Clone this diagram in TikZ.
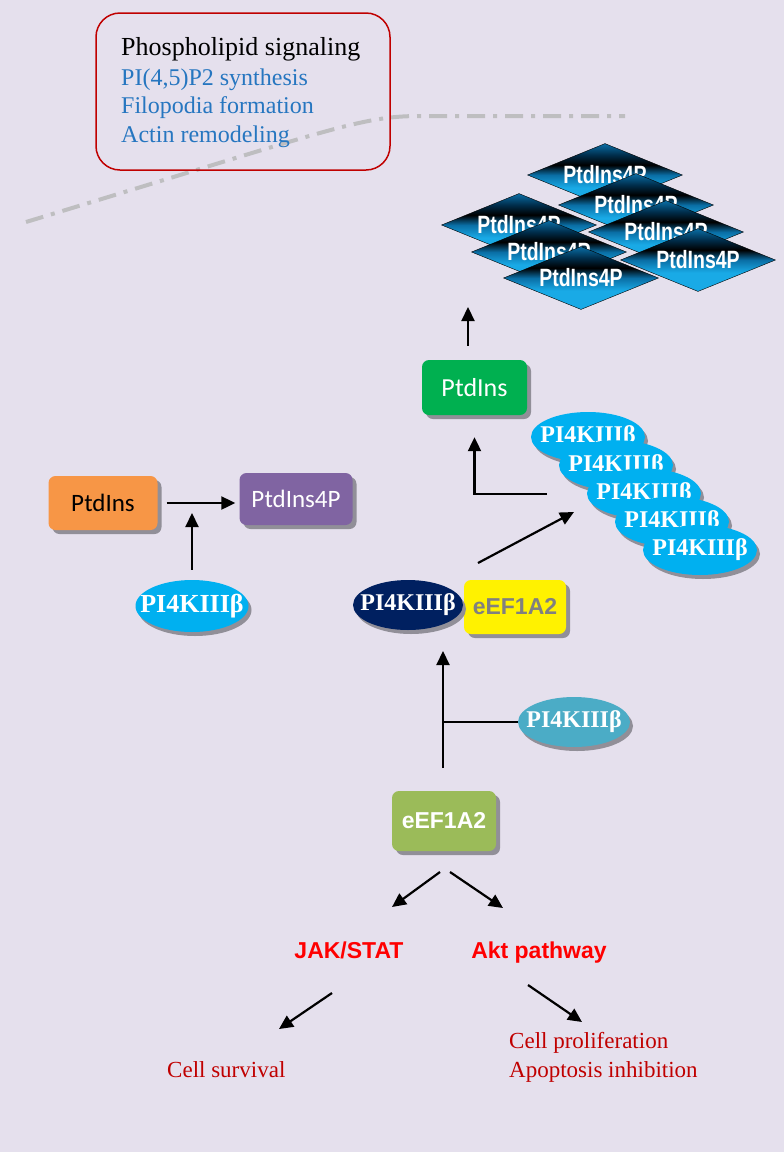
\documentclass[tikz,border=0pt]{standalone}
\usepackage{fontspec}
\setmainfont{Liberation Serif}
\newfontfamily\arialf{Liberation Sans}
\newfontfamily\calibf{Carlito}
\newfontfamily\narrowf[FakeStretch=0.78]{Liberation Sans}
\usetikzlibrary{shapes.geometric,shadows,arrows.meta}
\definecolor{bg}{RGB}{229,224,237}
\definecolor{dashcol}{RGB}{190,190,192}
\definecolor{dred}{RGB}{192,0,0}
\definecolor{tblue}{RGB}{38,118,192}
\definecolor{dblue}{RGB}{25,170,230}
\definecolor{mblue}{RGB}{10,110,165}
\definecolor{kblue}{RGB}{0,45,75}
\definecolor{lblue}{RGB}{0,176,240}
\definecolor{navy}{RGB}{0,32,96}
\definecolor{teal}{RGB}{75,172,198}
\definecolor{gcol}{RGB}{0,176,80}
\definecolor{olive}{RGB}{155,187,89}
\definecolor{orng}{RGB}{247,150,70}
\definecolor{purp}{RGB}{128,100,162}
\definecolor{shad}{RGB}{145,143,152}
\pgfdeclareverticalshading{diashade}{100bp}{color(0bp)=(dblue); color(40bp)=(dblue);
  color(50bp)=(mblue); color(58bp)=(black); color(66bp)=(kblue); color(75bp)=(mblue); color(100bp)=(mblue)}
\newcommand{\fsz}[1]{\fontsize{#1}{#1}\selectfont}

\begin{document}
\begin{tikzpicture}
[x=1pt,y=-1pt,
arr/.style={line width=2.2pt,-{Triangle[length=14pt,width=13pt]}},
box/.style={rectangle,rounded corners=7pt,inner sep=0pt,minimum width=104pt,minimum height=56pt,
  general shadow={fill=shad,shadow xshift=4pt,shadow yshift=-4pt}},
oval/.style={ellipse,fill=lblue,text=white,font=\bfseries\fsz{24},inner xsep=-16pt,inner ysep=0pt,
  minimum width=114pt,minimum height=50pt,general shadow={fill=shad,shadow xshift=3pt,shadow yshift=-4pt}},
dia/.style={diamond,aspect=2.5,draw=black,thin,shade,shading=diashade,
  minimum width=155pt,minimum height=63pt,inner sep=0pt,text=white,font=\narrowf\bfseries\fsz{25}},
lbl/.style={inner sep=0pt,anchor=base west}]
\useasboundingbox (0,0) rectangle (784,1152);
\fill[bg] (0,0) rectangle (784,1152);
% membrane
\draw[dashcol,line width=4pt,dash pattern=on 18pt off 8pt on 4pt off 8pt]
  (26,222) .. controls (330,130) and (360,116) .. (420,116) -- (625,116);
\node[draw=dred,line width=1.5pt,rounded corners=24pt,minimum width=294pt,minimum height=157pt] (lipid) at (243,91.5) {};
\node[lbl,font=\fsz{26}] (t1) at (121,55) {Phospholipid signaling};
\node[lbl,text=tblue,font=\fsz{24}] (t2) at (121,85) {PI(4,5)P2 synthesis};
\node[lbl,text=tblue,font=\fsz{24}] (t3) at (121,113) {Filopodia formation};
\node[lbl,text=tblue,font=\fsz{24}] (t4) at (121,142) {Actin remodeling};
% PtdIns4P pool
\foreach \n/\x/\y in {1/605/175,2/636/205,3/519/225,4/666/232,5/549/252,6/698/260,7/581/278}
\node[dia] (d\n) at (\x,\y) {PtdIns4P};
\coordinate (up) at (468,307);
\node[box,fill=gcol,text=white,font=\calibf\fsz{26},minimum width=105pt,minimum height=55pt] (ptd2) at (474.5,387.5) {PtdIns};
\draw[arr,shorten <=14pt] (ptd2.north -| up) -- (up);
% PI4KIIIb pool
\foreach \i in {0,...,4}
\node[oval] (e\i) at ({588+28*\i},{437+28.25*\i}) {PI4KIIIβ};
\coordinate (bend) at (547,494);
\draw[arr,shorten >=22pt] (bend) -| (ptd2.south);
% complex
\node[box,fill=yellow,text=gray,font=\arialf\bfseries\fsz{23},minimum width=102pt,minimum height=54pt] (y1) at (515,607) {eEF1A2};
\node[oval,fill=navy,minimum width=110pt] (k1) at (408,605) {PI4KIIIβ};
\coordinate (c1) at (478,563);
\coordinate (c2) at (574,512);
\draw[arr] (c1) -- (c2);
\coordinate (v0) at (443,768);
\coordinate (v1) at (443,651);
\draw[arr] (v0) -- (v1);
\node[oval,fill=teal,minimum width=112pt] (p3) at (574,722) {PI4KIIIβ};
\draw[line width=1.5pt] (p3) -- (p3 -| v0);
% eEF1A2 and downstream
\node[box,fill=olive,text=white,font=\arialf\bfseries\fsz{23},minimum height=60pt] (g) at (444,821) {eEF1A2};
\coordinate (s1) at (440,872);
\coordinate (s2) at (392,907);
\coordinate (s3) at (450,872);
\coordinate (s4) at (503,908);
\coordinate (s5) at (332,993);
\coordinate (s6) at (279,1029);
\coordinate (s7) at (528,985);
\coordinate (s8) at (582,1022);
\foreach \from/\to in {s1/s2,s3/s4,s5/s6,s7/s8}
\draw[arr] (\from) -- (\to);
\node[inner sep=0pt,anchor=base,text=red,font=\arialf\bfseries\fsz{23}] (jak) at (349,958) {JAK/STAT};
\node[inner sep=0pt,anchor=base,text=red,font=\arialf\bfseries\fsz{23}] (akt) at (539,958) {Akt pathway};
\node[lbl,text=dred,font=\fsz{23}] (surv) at (167,1077) {Cell survival};
\node[lbl,text=dred,font=\fsz{23}] (prol) at (509,1048) {Cell proliferation};
\node[lbl,text=dred,font=\fsz{23}] (apop) at (509,1077) {Apoptosis inhibition};
% left reaction
\node[box,fill=orng,font=\calibf\fsz{25},minimum width=109pt,minimum height=54pt] (o1) at (103,503) {PtdIns};
\node[box,fill=purp,text=white,font=\calibf\fsz{25},minimum width=113pt,minimum height=52pt] (p1) at (296,499) {PtdIns4P};
\draw[arr,shorten <=9pt,shorten >=4pt] (o1.east) -- (o1.east -| p1.west);
\node[oval,font=\bfseries\fsz{26},inner xsep=-20pt,minimum width=113pt,minimum height=52pt] (l1) at (192,606) {PI4KIIIβ};
\coordinate (m1) at (194,513);
\draw[arr,shorten <=10pt] (l1) -- (l1 |- m1);
\end{tikzpicture}
\end{document}
